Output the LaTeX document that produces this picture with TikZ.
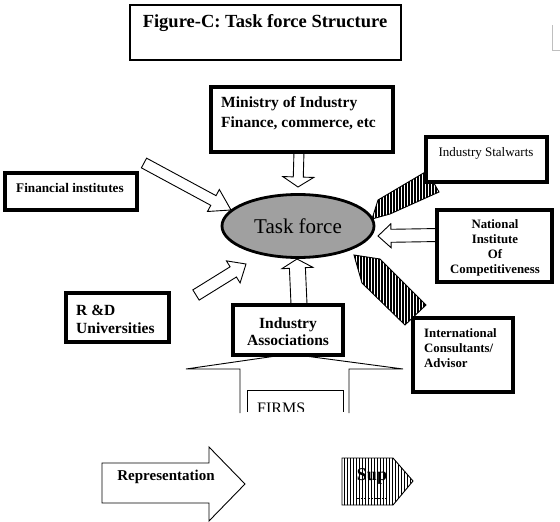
\documentclass[tikz,border=0pt]{standalone}
\usepackage{fontspec}
\setmainfont{Liberation Serif}
\usetikzlibrary{calc,shapes.geometric}
\definecolor{tfgray}{RGB}{160,160,160}
\newcommand\barrow[6]{%
  \coordinate (bah) at ($(#2)!#5!(#1)$);
  \path[#6] ($(#1)!#3!90:(#2)$) -- ($(bah)!#3!-90:(#1)$) -- ($(bah)!#4!-90:(#1)$) -- (#2)
    -- ($(bah)!#4!90:(#1)$) -- ($(bah)!#3!90:(#1)$) -- ($(#1)!#3!-90:(#2)$) -- cycle;}
% [#1 stripe width] #2 closed path, #3 xmin, #4 ymin, #5 ymax
\newcommand\hatched[5][1.4pt]{%
  \begin{scope}
    \clip #2;
    \foreach \hi in {0,...,26} {\draw[line width=#1] ({#3+3*\hi},#4) -- ({#3+3*\hi},#5);}
  \end{scope}
  \draw[line width=0.9pt, line join=miter] #2;}
\tikzset{
  box/.style={draw, line width=3.2pt, fill=white, inner sep=0pt},
  tbox/.style={draw, line width=2.2pt, fill=white, inner sep=0pt},
  oarrow/.style={draw, line width=0.9pt, fill=white, line join=miter},
  txt/.style={inner sep=0pt, font=\bfseries},
}
\begin{document}
\begin{tikzpicture}[x=1pt,y=-1pt]
\useasboundingbox (0,0) rectangle (560,522);
% faint mark at the top right
\draw[black!25, line width=0.6pt] (552,25) -- (552,50) -- (560,50);
% title
\node[tbox, minimum width=271pt, minimum height=55pt] (title) at (265.5,32.5) {};
\node[txt, font=\bfseries\fontsize{18.5}{20}\selectfont] (titletxt) at (265,23) {Figure-C: Task force Structure};

% task force ellipse
\node[ellipse, draw, line width=2.8pt, fill=tfgray, minimum width=152pt, minimum height=63pt, inner sep=0pt]
  (tf) at (298,226) {\fontsize{21}{24}\selectfont Task force};

% arrow anchors
\coordinate (minA) at (299,151); \coordinate (minB) at (298,187);
\coordinate (upA) at (299,304);  \coordinate (upB) at (297,259);
\coordinate (fiA) at (144,163);  \coordinate (fiB) at (231,210);
\coordinate (rdA) at (196,295);  \coordinate (rdB) at (246,264);
\coordinate (niA) at (439,235);  \coordinate (niB) at (378,236);

\barrow{minA}{minB}{5pt}{15.5pt}{10pt}{oarrow}
\barrow{upA}{upB}{8pt}{15.5pt}{9pt}{oarrow}
\barrow{fiA}{fiB}{5.5pt}{12.5pt}{20pt}{oarrow}
\barrow{rdA}{rdB}{6pt}{13pt}{15pt}{oarrow}
\barrow{niA}{niB}{6.5pt}{12pt}{13pt}{oarrow}

% hatched arrows
\hatched{(427,171) -- (439,192) -- (390,214) -- (372,219) -- (378,200) -- cycle}{370}{168}{222}
\hatched{(354,255) -- (380,259) -- (426,305) -- (405,325) -- (362,283) -- cycle}{352}{252}{328}

% big FIRMS arrow
\coordinate (fa1) at (240,413); \coordinate (fa2) at (240,369); \coordinate (fa3) at (186,369);
\coordinate (fa4) at (290,354); \coordinate (fa5) at (403,369); \coordinate (fa6) at (349,369);
\coordinate (fa7) at (349,413);
\draw[line width=0.9pt, fill=white] (fa1) -- (fa2) -- (fa3) -- (fa4) -- (fa5) -- (fa6) -- (fa7);
\begin{scope}
\clip (0,0) rectangle (560,411);
\draw[line width=0.8pt] (247,413) -- (247,390) -- (343,390) -- (343,413);
\node[inner sep=0pt, anchor=base west, font=\fontsize{16}{18}\selectfont] (firms) at (257,413) {FIRMS};
\end{scope}

% boxes
\node[box, minimum width=182pt, minimum height=65pt] (min) at (302,119.5) {};
\node[txt, anchor=west, align=left, font=\bfseries\fontsize{15.5}{20}\selectfont] (mintxt) at (221,113)
  {Ministry of Industry\\Finance, commerce, etc};

\node[box, minimum width=132pt, minimum height=37pt] (fin) at (71,191.5) {};
\node[txt, anchor=west, font=\bfseries\fontsize{13.2}{15}\selectfont] (fintxt) at (16,188) {Financial institutes};

\node[box, minimum width=121pt, minimum height=45pt] (stal) at (486.5,159.5) {};
\node[inner sep=0pt, font=\fontsize{13}{15}\selectfont] (staltxt) at (486,153) {Industry Stalwarts};

\node[box, minimum width=115pt, minimum height=72pt] (nat) at (494.5,246) {};
\node[txt, align=center, font=\bfseries\fontsize{12.8}{15}\selectfont] (nattxt) at (495,247.5)
  {National\\Institute\\Of\\Competitiveness};

\node[box, minimum width=100pt, minimum height=74pt] (cons) at (463,355) {};
\node[txt, anchor=west, align=left, font=\bfseries\fontsize{12.8}{15}\selectfont] (constxt) at (424,348)
  {International\\Consultants/\\Advisor};

\node[box, minimum width=103pt, minimum height=49pt] (rd) at (117.5,317.5) {};
\node[txt, anchor=west, align=left, font=\bfseries\fontsize{15.5}{18}\selectfont] (rdtxt) at (76,319)
  {R \&D\\Universities};

\node[box, line width=3.6pt, minimum width=110pt, minimum height=50pt] (ia) at (288,330) {};
\node[txt, align=center, font=\bfseries\fontsize{15.5}{17}\selectfont] (iatxt) at (288,331.5)
  {Industry\\Associations};

% legend
\coordinate (r1) at (102,463); \coordinate (r2) at (209,463); \coordinate (r3) at (209,447);
\coordinate (r4) at (245,484); \coordinate (r5) at (209,521); \coordinate (r6) at (209,503);
\coordinate (r7) at (102,503);
\draw[line width=0.9pt, fill=white] (r1) -- (r2) -- (r3) -- (r4) -- (r5) -- (r6) -- (r7) -- cycle;
\node[txt, font=\bfseries\fontsize{15}{17}\selectfont] (reptxt) at (166,477) {Representation};

\hatched[0.9pt]{(342,458) -- (393,458) -- (413,481) -- (393,505) -- (342,505) -- cycle}{341}{456}{507}
\node[inner sep=0pt, font=\bfseries\fontsize{18}{20}\selectfont] (suptxt) at (372,476) {Sup};
\draw[line width=1pt, dash pattern=on 2pt off 1.5pt] (357,498) -- (386,498);
\end{tikzpicture}
\end{document}
